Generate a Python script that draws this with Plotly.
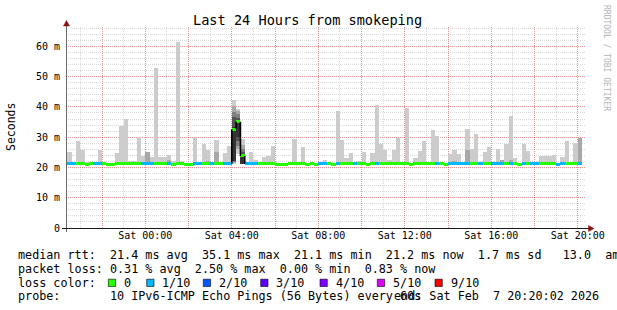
import plotly.graph_objects as go
from datetime import datetime, timedelta

# ---------------- data ----------------
TITLE = "Last 24 Hours from smokeping"
RANGE_START = "2026-02-06 20:20:02"
RANGE_END = "2026-02-07 20:20:02"
FIRST_BIN = "2026-02-06 20:24:00"
BIN_MINUTES = 12

median_ms = [
    21.2, 21.3, 21.2, 21.2, 21.1, 21.2, 21.3, 21.2, 21.2, 21.1,
    21.1, 21.2, 21.3, 21.2, 21.2, 21.2, 21.2, 21.3, 21.3, 21.2,
    21.3, 21.2, 21.2, 21.2, 21.1, 21.2, 21.2, 21.1, 21.1, 21.2,
    21.2, 21.2, 21.3, 21.2, 21.2, 21.2, 21.3, 21.2, 32.6, 35.1,
    23.8, 21.3, 21.2, 21.2, 21.2, 21.2, 21.2, 21.2, 21.1, 21.1,
    21.1, 21.2, 21.2, 21.2, 21.2, 21.1, 21.2, 21.1, 21.2, 21.2,
    21.2, 21.1, 21.3, 21.2, 21.2, 21.2, 21.2, 21.2, 21.2, 21.1,
    21.2, 21.3, 21.2, 21.2, 21.2, 21.2, 21.3, 21.2, 21.2, 21.1,
    21.2, 21.2, 21.2, 21.2, 21.3, 21.2, 21.2, 21.1, 21.2, 21.3,
    21.2, 21.2, 21.3, 21.2, 21.3, 21.2, 21.2, 21.2, 21.2, 21.2,
    21.3, 21.2, 21.3, 21.2, 21.1, 21.2, 21.2, 21.2, 21.2, 21.2,
    21.2, 21.2, 21.2, 21.1, 21.2, 21.2, 21.2, 21.2, 21.2,
]

loss_tenths = [
    1, 1, 0, 0, 0, 0, 1, 1, 0, 0,
    0, 0, 0, 0, 0, 0, 0, 1, 1, 1,
    0, 0, 0, 1, 0, 0, 0, 0, 0, 1,
    1, 0, 0, 1, 0, 0, 1, 1, 0, 0,
    0, 1, 1, 1, 0, 0, 0, 0, 0, 0,
    0, 0, 0, 0, 0, 0, 0, 0, 1, 1,
    0, 0, 1, 0, 0, 0, 1, 0, 0, 0,
    0, 1, 0, 0, 0, 0, 0, 0, 0, 0,
    0, 0, 0, 0, 0, 1, 0, 0, 1, 1,
    1, 1, 1, 0, 0, 1, 0, 0, 1, 1,
    1, 0, 1, 0, 0, 1, 0, 1, 1, 0,
    0, 0, 0, 1, 1, 0, 0, 0, 1,
]

max_ms = [
    25.2, None, 28.8, 25.9, 21.8, 21.7, None, 25.9, None, None,
    None, 24.9, 33.8, 36.1, 22.0, 22.2, 30.2, 23.7, 25.2, 23.6,
    52.8, 23.6, 23.3, 24.2, 22.3, 61.6, 22.0, None, None, 29.6,
    None, 27.6, 25.8, None, 29.2, None, 24.9, 27.2, None, None,
    None, None, 25.2, 22.6, None, 23.4, 23.9, 27.2, None, None,
    None, None, 29.3, None, 26.6, None, 21.6, None, None, 22.6,
    21.8, None, 38.7, 29.2, 23.1, 24.9, 21.8, 22.3, 25.2, None,
    24.9, 40.7, 27.9, 25.9, 22.6, 25.7, 29.6, None, 39.5, None,
    23.0, 25.6, 28.8, 21.6, 32.5, 30.5, 21.8, None, 24.6, 25.9,
    24.6, 21.8, 32.8, 26.2, 31.1, None, 25.2, 26.6, None, 26.2,
    22.6, 27.9, 37.0, 23.0, None, 27.9, 25.6, 21.7, None, 23.9,
    23.7, 23.9, 24.2, None, 23.6, 28.8, 21.8, 28.2, 29.6,
]

second_ms = [None] * 119
for _i, _v in [(18, 25.2), (23, 22.5), (32, 22.3), (34, 25.0), (89, 22.3),
               (92, 25.9), (100, 22.6), (102, 22.6), (118, 29.6)]:
    second_ms[_i] = _v

# the burst just after 04:00, drawn as nested smoke bands (outer -> inner)
spike_bins = [38, 39, 40]
spike_lo = [[21.3, 21.5, 21.8, 22.0, 22.0],
            [24.5, 26.0, 27.0, 28.9, 30.0],
            [21.3, 21.3, 21.3, 21.3, 21.3]]
spike_hi = [[42.4, 40.4, 38.2, 36.6, 33.3],
            [39.2, 38.5, 37.5, 36.5, 35.5],
            [29.4, 27.5, 26.0, 25.0, 24.5]]
smoke_shades = ["#cccccc", "#a8a8a8", "#808080", "#555555", "#333333"]

loss_keys = [0, 1, 2, 3, 4, 5, 9]
loss_labels = ["0", "1/10", "2/10", "3/10", "4/10", "5/10", "9/10"]
loss_colors = ["#26ff00", "#00b8ff", "#0059ff", "#5e00ff", "#7e00ff", "#dd00ff", "#ff0000"]

y_tick_vals = [0, 10, 20, 30, 40, 50, 60]
y_tick_text = ["0", "10 m", "20 m", "30 m", "40 m", "50 m", "60 m"]
x_grid_vals = ["2026-02-06 22:00", "2026-02-07 00:00", "2026-02-07 02:00",
               "2026-02-07 04:00", "2026-02-07 06:00", "2026-02-07 08:00",
               "2026-02-07 10:00", "2026-02-07 12:00", "2026-02-07 14:00",
               "2026-02-07 16:00", "2026-02-07 18:00", "2026-02-07 20:00"]
x_grid_text = ["", "Sat 00:00", "", "Sat 04:00", "", "Sat 08:00",
               "", "Sat 12:00", "", "Sat 16:00", "", "Sat 20:00"]

legend_lines = [
    "median rtt:  21.4 ms avg  35.1 ms max  21.1 ms min  21.2 ms now  1.7 ms sd   13.0  am",
    "packet loss: 0.31 % avg  2.50 % max  0.00 % min  0.83 % now",
    "loss color:",
    "probe:       10 IPv6-ICMP Echo Pings (56 Bytes) every 60s",
]
end_text = "end: Sat Feb  7 20:20:02 2026"
watermark = "RRDTOOL / TOBI OETIKER"

# ---------------- geometry helpers ----------------
W, H = 617, 310
L, R, T, B = 66, 585, 27, 228
PW, PH = R - L, B - T


def PX(x):
    return (x - L) / PW


def PY(y):
    return (B - y) / PH


MONO = "DejaVu Sans Mono"
t0 = datetime.strptime(FIRST_BIN, "%Y-%m-%d %H:%M:%S")
step = timedelta(minutes=BIN_MINUTES)
width_ms = BIN_MINUTES * 60 * 1000
n = len(median_ms)
centers = [t0 + step * i + step / 2 for i in range(n)]
starts = [t0 + step * i for i in range(n)]

fig = go.Figure()

# outer smoke
xs, bs, ys = [], [], []
for i in range(n):
    if i in spike_bins or max_ms[i] is None:
        continue
    xs.append(centers[i]); bs.append(median_ms[i]); ys.append(max_ms[i] - median_ms[i])
fig.add_trace(go.Bar(x=xs, y=ys, base=bs, width=width_ms, marker=dict(color=smoke_shades[0], line=dict(width=0)),
                     hoverinfo="skip", showlegend=False))

# second band
xs, bs, ys = [], [], []
for i in range(n):
    if i in spike_bins or second_ms[i] is None:
        continue
    xs.append(centers[i]); bs.append(median_ms[i]); ys.append(second_ms[i] - median_ms[i])
fig.add_trace(go.Bar(x=xs, y=ys, base=bs, width=width_ms, marker=dict(color=smoke_shades[1], line=dict(width=0)),
                     hoverinfo="skip", showlegend=False))

# spike bands
for lvl, shade in enumerate(smoke_shades):
    fig.add_trace(go.Bar(
        x=[centers[b] for b in spike_bins],
        y=[spike_hi[k][lvl] - spike_lo[k][lvl] for k in range(len(spike_bins))],
        base=[spike_lo[k][lvl] for k in range(len(spike_bins))],
        width=width_ms, marker=dict(color=shade, line=dict(width=0)),
        hoverinfo="skip", showlegend=False))

# black steps where the median jumps
vx, vy = [], []
for i in range(1, n):
    if abs(median_ms[i] - median_ms[i - 1]) > 1:
        vx += [starts[i], starts[i], None]
        vy += [median_ms[i - 1], median_ms[i], None]
fig.add_trace(go.Scatter(x=vx, y=vy, mode="lines", line=dict(color="#000000", width=1.6),
                         hoverinfo="skip", showlegend=False))

# median line coloured by loss
med_colors = [loss_colors[loss_keys.index(v)] for v in loss_tenths]
fig.add_trace(go.Bar(x=centers, y=[1.0] * n, base=[m - 0.5 for m in median_ms], width=width_ms,
                     marker=dict(color=med_colors, line=dict(width=0)), hoverinfo="skip", showlegend=False))

MAJ = "rgba(255,0,0,0.3)"
MIN = "rgba(128,128,128,0.3)"
DASH = "1px,1px"

fig.update_layout(
    width=W, height=H, autosize=False,
    margin=dict(l=L, r=W - R, t=T, b=H - B, pad=0),
    paper_bgcolor="white", plot_bgcolor="white",
    barmode="overlay", bargap=0, showlegend=False, hovermode=False,
    font=dict(family=MONO, color="black"),
    xaxis=dict(type="date", range=[RANGE_START, RANGE_END], tickmode="array",
               tickvals=x_grid_vals, ticktext=x_grid_text, showgrid=True,
               gridcolor=MAJ, griddash=DASH, gridwidth=1, zeroline=False, showline=False,
               ticks="", tickfont=dict(family=MONO, size=10, color="black"),
               minor=dict(tick0="2026-02-06 21:00", dtick=3600000, showgrid=True,
                          gridcolor=MIN, griddash=DASH, gridwidth=1, ticks=""),
               fixedrange=True),
    yaxis=dict(range=[0, 66.4], tickmode="array", tickvals=y_tick_vals, ticktext=y_tick_text,
               showgrid=True, gridcolor=MAJ, griddash=DASH, gridwidth=1, zeroline=False,
               showline=False, ticks="outside", ticklen=3, tickcolor="rgba(0,0,0,0)",
               tickfont=dict(family=MONO, size=10, color="black"),
               minor=dict(dtick=2, showgrid=True, gridcolor=MIN, griddash=DASH, gridwidth=1, ticks=""),
               fixedrange=True),
)

shapes = []
# axes
shapes.append(dict(type="line", xref="paper", yref="paper", x0=PX(66.5), x1=PX(66.5), y0=PY(232), y1=PY(24),
                   line=dict(color="#6a6a6a", width=1)))
shapes.append(dict(type="line", xref="paper", yref="paper", x0=PX(62), x1=PX(590), y0=PY(228.5), y1=PY(228.5),
                   line=dict(color="#1a1a1a", width=1)))
ARROW = "#8b1010"
shapes.append(dict(type="path", xref="paper", yref="paper",
                   path=f"M {PX(63.5)},{PY(26)} L {PX(66.5)},{PY(20.5)} L {PX(69.5)},{PY(26)} Z",
                   fillcolor=ARROW, line=dict(color=ARROW, width=0.5)))
shapes.append(dict(type="path", xref="paper", yref="paper",
                   path=f"M {PX(588.5)},{PY(225.5)} L {PX(594)},{PY(228.5)} L {PX(588.5)},{PY(231.5)} Z",
                   fillcolor=ARROW, line=dict(color=ARROW, width=0.5)))

annotations = []
annotations.append(dict(text=TITLE, xref="paper", yref="paper", x=PX(307.5), y=PY(19.5),
                        xanchor="center", yanchor="middle", showarrow=False,
                        font=dict(family=MONO, size=13.6, color="black")))
annotations.append(dict(text="Seconds", xref="paper", yref="paper", x=PX(11), y=PY(127),
                        xanchor="center", yanchor="middle", textangle=-90, showarrow=False,
                        font=dict(family=MONO, size=11.5, color="black")))
annotations.append(dict(text=watermark.replace(" ", "\u00a0"), xref="paper", yref="paper", x=PX(606), y=PY(58),
                        xanchor="center", yanchor="middle", textangle=90, showarrow=False,
                        font=dict(family=MONO, size=8, color="#b4b4b4")))

line_y = [254.5, 268.5, 282.5, 296]
for txt, yy in zip(legend_lines, line_y):
    annotations.append(dict(text=txt.replace(" ", "\u00a0"), xref="paper", yref="paper", x=PX(16), y=PY(yy),
                            xanchor="left", yanchor="middle", showarrow=False,
                            font=dict(family=MONO, size=11.75, color="black")))
annotations.append(dict(text=end_text.replace(" ", "\u00a0"), xref="paper", yref="paper", x=PX(600.5), y=PY(296),
                        xanchor="right", yanchor="middle", showarrow=False,
                        font=dict(family=MONO, size=11.75, color="black")))

box_x = [108.3, 146.7, 203.3, 260.7, 320.0, 377.3, 435.0]
for bx, lab, col in zip(box_x, loss_labels, loss_colors):
    shapes.append(dict(type="rect", xref="paper", yref="paper", x0=PX(bx), x1=PX(bx + 7.3),
                       y0=PY(286.5), y1=PY(279.2), fillcolor=col, line=dict(color="#000000", width=0.6)))
    annotations.append(dict(text=lab, xref="paper", yref="paper", x=PX(bx + 13.5), y=PY(282.5),
                            xanchor="left", yanchor="middle", showarrow=False,
                            font=dict(family=MONO, size=11.75, color="black")))

fig.update_layout(shapes=shapes, annotations=annotations)
fig.write_html("out.html", config={"displayModeBar": False, "staticPlot": True})
